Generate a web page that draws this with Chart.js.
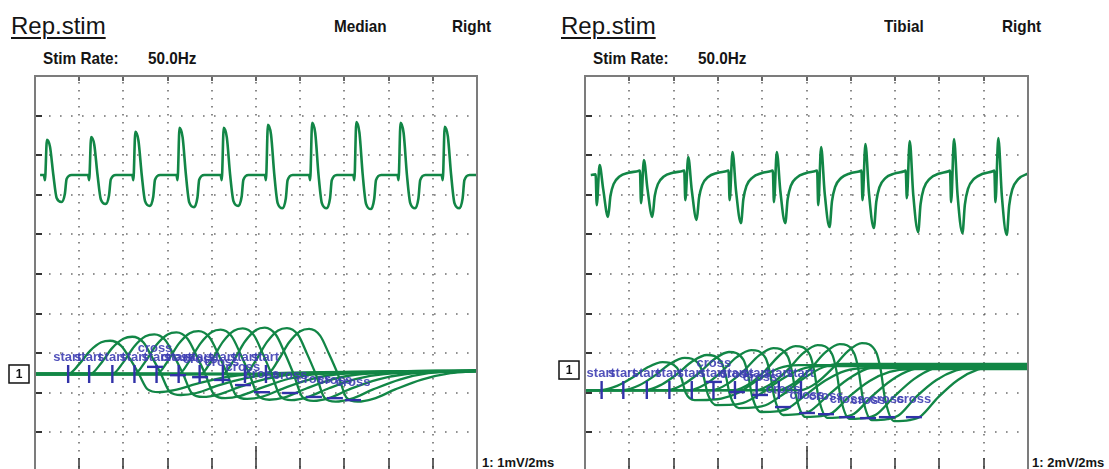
<!DOCTYPE html>
<html>
<head>
<meta charset="utf-8">
<script src="https://cdn.jsdelivr.net/npm/chart.js@4.4.1/dist/chart.umd.min.js"></script>
<style>
  html, body { margin: 0; padding: 0; background: #fff; }
  body { width: 1109px; height: 469px; overflow: hidden; position: relative;
         font-family: "Liberation Sans", Arial, sans-serif; color: #151515; }
  .t { position: absolute; white-space: nowrap; line-height: 1; }
  .title { font-size: 24px; text-decoration: underline; text-decoration-thickness: 2px; text-underline-offset: 3px; }
  .hd { font-size: 17px; font-weight: bold; transform: scaleX(0.9); transform-origin: 0 0; }
  .gain { font-size: 13px; font-weight: bold; }
  canvas { position: absolute; }
</style>
</head>
<body>
<div class="t title" style="left:11px;top:14px">Rep.stim</div>
<div class="t hd" style="left:334px;top:18px">Median</div>
<div class="t hd" style="left:452px;top:18px">Right</div>
<div class="t hd" style="left:43px;top:50px">Stim Rate:</div>
<div class="t hd" style="left:148px;top:50px">50.0Hz</div>
<div class="t gain" style="left:482px;top:456px">1: 1mV/2ms</div>

<div class="t title" style="left:561px;top:14px">Rep.stim</div>
<div class="t hd" style="left:884px;top:18px">Tibial</div>
<div class="t hd" style="left:1002px;top:18px">Right</div>
<div class="t hd" style="left:593px;top:50px">Stim Rate:</div>
<div class="t hd" style="left:698px;top:50px">50.0Hz</div>
<div class="t gain" style="left:1032px;top:456px">1: 2mV/2ms</div>

<canvas id="median" width="480" height="416" style="left:0;top:66px;width:480px;height:416px"></canvas>
<canvas id="tibial" width="481" height="416" style="left:550px;top:66px;width:481px;height:416px"></canvas>

<script>
// ---- Median nerve, 1 mV/div ----
// train of 10 responses, [ms, mV], 20 ms per division
const medianTrain = [
  [2.3,0],[4.0,0],[4.5,-0.13],[5.4,0.89],[6.8,0.71],[8.3,0],[9.8,-0.58],[12.0,-0.68],[13.5,-0.48],[14.3,-0.10],[16.6,0],
  [24.0,0],[24.5,-0.13],[25.4,0.96],[26.8,0.77],[28.3,0],[29.8,-0.62],[32.0,-0.73],[33.5,-0.51],[34.3,-0.11],[36.6,0],
  [44.0,0],[44.5,-0.13],[45.4,1.09],[46.8,0.87],[48.3,0],[49.8,-0.66],[52.0,-0.78],[53.5,-0.55],[54.3,-0.12],[56.6,0],
  [64.0,0],[64.5,-0.13],[65.4,1.19],[66.8,0.95],[68.3,0],[69.8,-0.69],[72.0,-0.81],[73.5,-0.57],[74.3,-0.12],[76.6,0],
  [84.0,0],[84.5,-0.13],[85.4,1.19],[86.8,0.95],[88.3,0],[89.8,-0.66],[92.0,-0.78],[93.5,-0.55],[94.3,-0.12],[96.6,0],
  [104.0,0],[104.5,-0.13],[105.4,1.27],[106.8,1.02],[108.3,0],[109.8,-0.71],[112.0,-0.84],[113.5,-0.59],[114.3,-0.13],[116.6,0],
  [124.0,0],[124.5,-0.13],[125.4,1.32],[126.8,1.06],[128.3,0],[129.8,-0.71],[132.0,-0.84],[133.5,-0.59],[134.3,-0.13],[136.6,0],
  [144.0,0],[144.5,-0.13],[145.4,1.34],[146.8,1.07],[148.3,0],[149.8,-0.73],[152.0,-0.86],[153.5,-0.60],[154.3,-0.13],[156.6,0],
  [164.0,0],[164.5,-0.13],[165.4,1.32],[166.8,1.06],[168.3,0],[169.8,-0.71],[172.0,-0.84],[173.5,-0.59],[174.3,-0.13],[176.6,0],
  [184.0,0],[184.5,-0.13],[185.4,1.22],[186.8,0.98],[188.3,0],[189.8,-0.71],[192.0,-0.84],[193.5,-0.59],[194.3,-0.13],[196.6,0],[200,0]
];
// cascaded sweeps, [ms, mV], 2 ms per division
const medianSweeps = [
  [[0,0],[1.5,0],[2.0,0.25],[2.5,0.59],[3.0,0.80],[3.4,0.84],[3.9,0.71],[4.3,0.38],[4.7,0],[5.1,-0.39],[5.6,-0.46],[6.3,-0.41],[7.3,-0.25],[8.5,-0.09],[9.8,0],[20,0.08]],
  [[0,0],[2.5,0],[3.0,0.28],[3.5,0.66],[4.0,0.89],[4.4,0.94],[4.9,0.80],[5.3,0.42],[5.7,0],[6.1,-0.45],[6.6,-0.53],[7.3,-0.48],[8.3,-0.29],[9.5,-0.11],[10.8,0],[20,0.06]],
  [[0,0],[3.5,0],[4.0,0.30],[4.5,0.70],[5.0,0.95],[5.4,1.00],[5.9,0.85],[6.3,0.45],[6.7,0],[7.1,-0.49],[7.6,-0.58],[8.3,-0.52],[9.3,-0.32],[10.5,-0.12],[11.8,0],[20,0.09]],
  [[0,0],[4.5,0],[5.0,0.32],[5.5,0.74],[6.0,1.00],[6.4,1.05],[6.9,0.89],[7.3,0.47],[7.7,0],[8.1,-0.52],[8.6,-0.61],[9.3,-0.55],[10.3,-0.34],[11.5,-0.12],[12.8,0],[20,0.07]],
  [[0,0],[5.5,0],[6.0,0.32],[6.5,0.76],[7.0,1.03],[7.4,1.08],[7.9,0.92],[8.3,0.49],[8.7,0],[9.1,-0.54],[9.6,-0.63],[10.3,-0.57],[11.3,-0.35],[12.5,-0.13],[13.8,0],[20,0.10]],
  [[0,0],[6.5,0],[7.0,0.34],[7.5,0.78],[8.0,1.06],[8.4,1.12],[8.9,0.95],[9.3,0.50],[9.7,0],[10.1,-0.55],[10.6,-0.65],[11.3,-0.59],[12.3,-0.36],[13.5,-0.13],[14.8,0],[20,0.08]],
  [[0,0],[7.5,0],[8.0,0.35],[8.5,0.81],[9.0,1.09],[9.4,1.15],[9.9,0.98],[10.3,0.52],[10.7,0],[11.1,-0.56],[11.6,-0.66],[12.3,-0.59],[13.3,-0.36],[14.5,-0.13],[15.8,0],[20,0.07]],
  [[0,0],[8.5,0],[9.0,0.35],[9.5,0.82],[10.0,1.11],[10.4,1.17],[10.9,0.99],[11.3,0.53],[11.7,0],[12.1,-0.58],[12.6,-0.68],[13.3,-0.61],[14.3,-0.37],[15.5,-0.14],[16.8,0],[20,0.09]],
  [[0,0],[9.5,0],[10.0,0.35],[10.5,0.81],[11.0,1.10],[11.4,1.16],[11.9,0.99],[12.3,0.52],[12.7,0],[13.1,-0.60],[13.6,-0.70],[14.3,-0.63],[15.3,-0.39],[16.5,-0.14],[17.8,0.02],[20,0.08]],
  [[0,0],[10.5,0],[11.0,0.34],[11.5,0.80],[12.0,1.08],[12.4,1.14],[12.9,0.97],[13.3,0.51],[13.7,0],[14.1,-0.60],[14.6,-0.70],[15.3,-0.63],[16.3,-0.39],[17.5,-0.14],[18.8,0.02],[20,0.08]]
];
const medianStart = [1.5, 2.45, 3.5, 4.5, 5.5, 6.5, 7.45, 8.5, 9.5, 10.45];
const medianCrossT = [5.43, 6.47, 7.47, 8.46, 9.41, 10.27, 11.54, 12.62, 13.57, 14.39];
const medianCrossV = [0.18, -0.03, -0.08, -0.15, -0.28, -0.46, -0.48, -0.58, -0.61, -0.66];

// ---- Tibial nerve, 2 mV/div ----
const tibialTrain = [
  [2.6,-0.25],[4.8,-0.22],[5.3,-1.77],[6.6,0.25],[8.2,-0.95],[10.4,-2.37],[11.5,-1.30],[12.9,-0.71],[15.6,-0.33],[19.6,-0.14],[24.1,-0.05],
  [24.8,-0.02],[25.3,-1.67],[26.6,0.50],[28.2,-0.95],[30.4,-2.37],[31.5,-1.30],[32.9,-0.71],[35.6,-0.33],[39.6,-0.14],[44.1,-0.05],
  [44.8,-0.02],[45.3,-1.52],[46.6,0.66],[48.2,-1.01],[50.4,-2.52],[51.5,-1.39],[52.9,-0.76],[55.6,-0.35],[59.6,-0.15],[64.1,-0.05],
  [64.8,-0.02],[65.3,-1.52],[66.6,0.91],[68.2,-1.07],[70.4,-2.68],[71.5,-1.47],[72.9,-0.80],[75.6,-0.38],[79.6,-0.16],[84.1,-0.05],
  [84.8,-0.02],[85.3,-1.62],[86.6,0.91],[88.2,-1.07],[90.4,-2.68],[91.5,-1.47],[92.9,-0.80],[95.6,-0.38],[99.6,-0.16],[104.1,-0.05],
  [104.8,-0.02],[105.3,-1.77],[106.6,1.16],[108.2,-1.15],[110.4,-2.88],[111.5,-1.58],[112.9,-0.86],[115.6,-0.40],[119.6,-0.17],[124.1,-0.06],
  [124.8,-0.02],[125.3,-1.52],[126.6,1.31],[128.2,-1.17],[130.4,-2.93],[131.5,-1.61],[132.9,-0.88],[135.6,-0.41],[139.6,-0.18],[144.1,-0.06],
  [144.8,-0.02],[145.3,-1.42],[146.6,1.46],[148.2,-1.25],[150.4,-3.13],[151.5,-1.72],[152.9,-0.94],[155.6,-0.44],[159.6,-0.19],[164.1,-0.06],
  [164.8,-0.02],[165.3,-1.62],[166.6,1.57],[168.2,-1.27],[170.4,-3.18],[171.5,-1.75],[172.9,-0.95],[175.6,-0.45],[179.6,-0.19],[184.1,-0.06],
  [184.8,-0.02],[185.3,-1.62],[186.6,1.62],[188.2,-1.31],[190.4,-3.28],[191.5,-1.80],[192.9,-0.98],[195.6,-0.46],[199.6,-0.20],[200,-0.19]
];
const tibialSweeps = [
  [[0,0],[0.75,0],[1.45,0.21],[2.15,0.63],[2.85,1.16],[3.5,1.41],[4.15,1.13],[4.35,0.61],[4.55,-0.15],[4.95,-0.51],[5.65,-0.49],[6.15,-0.43],[6.95,-0.12],[7.85,0.54],[8.75,1.10],[9.65,1.26],[20,1.26]],
  [[0,0],[1.75,0],[2.45,0.24],[3.15,0.73],[3.85,1.33],[4.5,1.62],[5.15,1.30],[5.35,0.70],[5.55,-0.23],[5.95,-0.76],[6.65,-0.74],[7.15,-0.65],[7.95,-0.17],[8.85,0.52],[9.75,1.05],[10.65,1.21],[20,1.21]],
  [[0,0],[2.75,0],[3.45,0.27],[4.15,0.80],[4.85,1.45],[5.5,1.77],[6.15,1.42],[6.35,0.76],[6.55,-0.27],[6.95,-0.91],[7.65,-0.88],[8.15,-0.77],[8.95,-0.21],[9.85,0.57],[10.75,1.15],[11.65,1.32],[20,1.32]],
  [[0,0],[3.75,0],[4.45,0.29],[5.15,0.86],[5.85,1.57],[6.5,1.92],[7.15,1.54],[7.35,0.83],[7.55,-0.33],[7.95,-1.11],[8.65,-1.08],[9.15,-0.94],[9.95,-0.26],[10.85,0.48],[11.75,0.97],[12.65,1.11],[20,1.11]],
  [[0,0],[4.75,0],[5.45,0.30],[6.15,0.91],[6.85,1.66],[7.5,2.02],[8.15,1.62],[8.35,0.87],[8.55,-0.38],[8.95,-1.26],[9.65,-1.22],[10.15,-1.07],[10.95,-0.29],[11.85,0.53],[12.75,1.08],[13.65,1.24],[20,1.24]],
  [[0,0],[5.75,0],[6.45,0.32],[7.15,0.95],[7.85,1.74],[8.5,2.12],[9.15,1.70],[9.35,0.91],[9.55,-0.41],[9.95,-1.36],[10.65,-1.32],[11.15,-1.16],[11.95,-0.31],[12.85,0.46],[13.75,0.92],[14.65,1.06],[20,1.06]],
  [[0,0],[6.75,0],[7.45,0.33],[8.15,1.00],[8.85,1.82],[9.5,2.22],[10.15,1.78],[10.35,0.95],[10.55,-0.42],[10.95,-1.41],[11.65,-1.37],[12.15,-1.20],[12.95,-0.32],[13.85,0.51],[14.75,1.03],[15.65,1.18],[20,1.18]],
  [[0,0],[7.75,0],[8.45,0.34],[9.15,1.02],[9.85,1.86],[10.5,2.27],[11.15,1.82],[11.35,0.98],[11.55,-0.44],[11.95,-1.46],[12.65,-1.42],[13.15,-1.24],[13.95,-0.34],[14.85,0.55],[15.75,1.11],[16.65,1.28],[20,1.28]],
  [[0,0],[8.75,0],[9.45,0.35],[10.15,1.04],[10.85,1.90],[11.5,2.32],[12.15,1.86],[12.35,1.00],[12.55,-0.46],[12.95,-1.52],[13.65,-1.47],[14.15,-1.29],[14.95,-0.35],[15.85,0.49],[16.75,0.99],[17.65,1.14],[20,1.14]],
  [[0,0],[9.75,0],[10.45,0.36],[11.15,1.07],[11.85,1.94],[12.5,2.37],[13.15,1.90],[13.35,1.02],[13.55,-0.47],[13.95,-1.57],[14.65,-1.52],[15.15,-1.33],[15.95,-0.36],[16.85,0.52],[17.75,1.04],[18.65,1.20],[20,1.20]]
];
const tibialStart = [0.75, 1.73, 2.79, 3.81, 4.82, 5.8, 6.77, 7.75, 8.75, 9.75];
const tibialCrossT = [5.82, 6.86, 7.9, 8.94, 10.02, 10.88, 11.83, 12.78, 13.63, 14.85];
const tibialCrossV = [0.41, -0.10, -0.25, -0.86, -1.16, -1.22, -1.37, -1.42, -1.37, -1.37];

const TRACE = '#128646';
const MARK = 'rgb(50,50,168)';
const LABEL = 'rgba(62,62,178,0.9)';

function pts(arr) {
  return arr.map(function (p) { return { x: p[0], y: p[1] }; });
}

function line(ctx, x1, y1, x2, y2) {
  ctx.beginPath();
  ctx.moveTo(x1, y1);
  ctx.lineTo(x2, y2);
  ctx.stroke();
}

// scope grid, frame, markers and channel box
const scopePlugin = {
  id: 'scope',
  beforeDatasetsDraw(chart) {
    const ctx = chart.ctx, a = chart.chartArea;
    const sx = chart.scales.x, gy = chart.scales.gy;
    ctx.save();
    ctx.strokeStyle = 'rgba(85,85,85,0.85)';
    ctx.lineWidth = 1.6;
    ctx.setLineDash([1.6, 6.4]);
    for (let v = 2; v < 20; v += 2) {
      const px = Math.round(sx.getPixelForValue(v));
      line(ctx, px, a.top + 6, px, a.bottom);
    }
    ctx.setLineDash([1.6, 9.4]);
    for (let i = 1; i < 10; i++) {
      const py = Math.round(gy.getPixelForValue(i));
      line(ctx, a.left + 14, py, a.right, py);
    }
    ctx.setLineDash([]);
    ctx.strokeStyle = '#333';
    ctx.lineWidth = 2;
    for (let i = 1; i < 10; i++) {
      const py = Math.round(gy.getPixelForValue(i));
      line(ctx, a.left, py, a.left + 7, py);
    }
    ctx.lineWidth = 1.5;
    for (let v = 2; v < 20; v += 2) {
      const px = Math.round(sx.getPixelForValue(v));
      line(ctx, px, a.top, px, a.top + 5);
      line(ctx, px, a.bottom - (v === 10 ? 26 : 14), px, a.bottom);
    }
    ctx.restore();
  },
  afterDatasetsDraw(chart) {
    const o = chart.options.plugins.scope;
    const ctx = chart.ctx, a = chart.chartArea;
    const sx = chart.scales.x, sy = chart.scales.yb;
    const py0 = sy.getPixelForValue(0);
    ctx.save();
    ctx.strokeStyle = MARK;
    ctx.lineWidth = 2.4;
    o.start.forEach(function (t) {
      const px = sx.getPixelForValue(t);
      line(ctx, px, py0 - 9, px, py0 + 9);
    });
    o.crossT.forEach(function (t, i) {
      const px = sx.getPixelForValue(t), py = sy.getPixelForValue(o.crossV[i]);
      line(ctx, px - 8, py, px + 8, py);
    });
    ctx.font = 'bold 13px "Liberation Sans", Arial, sans-serif';
    ctx.fillStyle = LABEL;
    ctx.textBaseline = 'middle';
    ctx.textAlign = 'left';
    o.start.forEach(function (t) {
      ctx.fillText('start', sx.getPixelForValue(t) - 15, py0 - 17);
    });
    ctx.textAlign = 'center';
    o.crossT.forEach(function (t, i) {
      ctx.fillText('cross', sx.getPixelForValue(t), sy.getPixelForValue(o.crossV[i]) - 18);
    });
    // channel 1 reference box
    const pm = sy.getPixelForValue(o.channelZero);
    ctx.font = 'bold 12px "Liberation Sans", Arial, sans-serif';
    ctx.fillStyle = '#fff';
    ctx.fillRect(a.left - 26, pm - 9, 20, 18);
    ctx.strokeStyle = '#111';
    ctx.lineWidth = 1.5;
    ctx.strokeRect(a.left - 26, pm - 9, 20, 18);
    ctx.fillStyle = '#111';
    ctx.fillText('1', a.left - 16, pm + 1);
    ctx.restore();
  },
  afterDraw(chart) {
    const ctx = chart.ctx, a = chart.chartArea;
    ctx.save();
    ctx.strokeStyle = '#7c7c7c';
    ctx.lineWidth = 2;
    ctx.strokeRect(a.left, a.top, a.right - a.left, a.bottom - a.top);
    ctx.restore();
  }
};

function drawPanel(id, train, sweeps, yb, yt, marks) {
  const datasets = [{
    data: pts(train), xAxisID: 'xt', yAxisID: 'yt',
    borderColor: TRACE, borderWidth: 2.6, showLine: true
  }];
  sweeps.forEach(function (s) {
    datasets.push({
      data: pts(s), xAxisID: 'x', yAxisID: 'yb',
      borderColor: TRACE, borderWidth: 2.3, showLine: true
    });
  });
  return new Chart(document.getElementById(id), {
    type: 'scatter',
    data: { datasets: datasets },
    options: {
      responsive: false,
      animation: false,
      devicePixelRatio: 1,
      events: [],
      layout: { padding: { left: 35, right: 3, top: 10, bottom: 10 } },
      elements: {
        point: { radius: 0 },
        line: { cubicInterpolationMode: 'monotone' }
      },
      scales: {
        x: { type: 'linear', axis: 'x', min: 0, max: 20, display: false },
        xt: { type: 'linear', axis: 'x', min: 0, max: 200, display: false },
        gy: { type: 'linear', axis: 'y', min: 0, max: 10, display: false },
        yb: { type: 'linear', axis: 'y', min: yb[0], max: yb[1], display: false },
        yt: { type: 'linear', axis: 'y', min: yt[0], max: yt[1], display: false }
      },
      plugins: {
        legend: { display: false },
        tooltip: { enabled: false },
        scope: marks
      }
    },
    plugins: [scopePlugin]
  });
}

drawPanel('median', medianTrain, medianSweeps, [-2.475, 7.525], [-7.5, 2.5],
  { start: medianStart, crossT: medianCrossT, crossV: medianCrossV, channelZero: 0 });
drawPanel('tibial', tibialTrain, tibialSweeps, [-4.14, 15.86], [-15.25, 4.75],
  { start: tibialStart, crossT: tibialCrossT, crossV: tibialCrossV, channelZero: 1.01 });
</script>
</body>
</html>
